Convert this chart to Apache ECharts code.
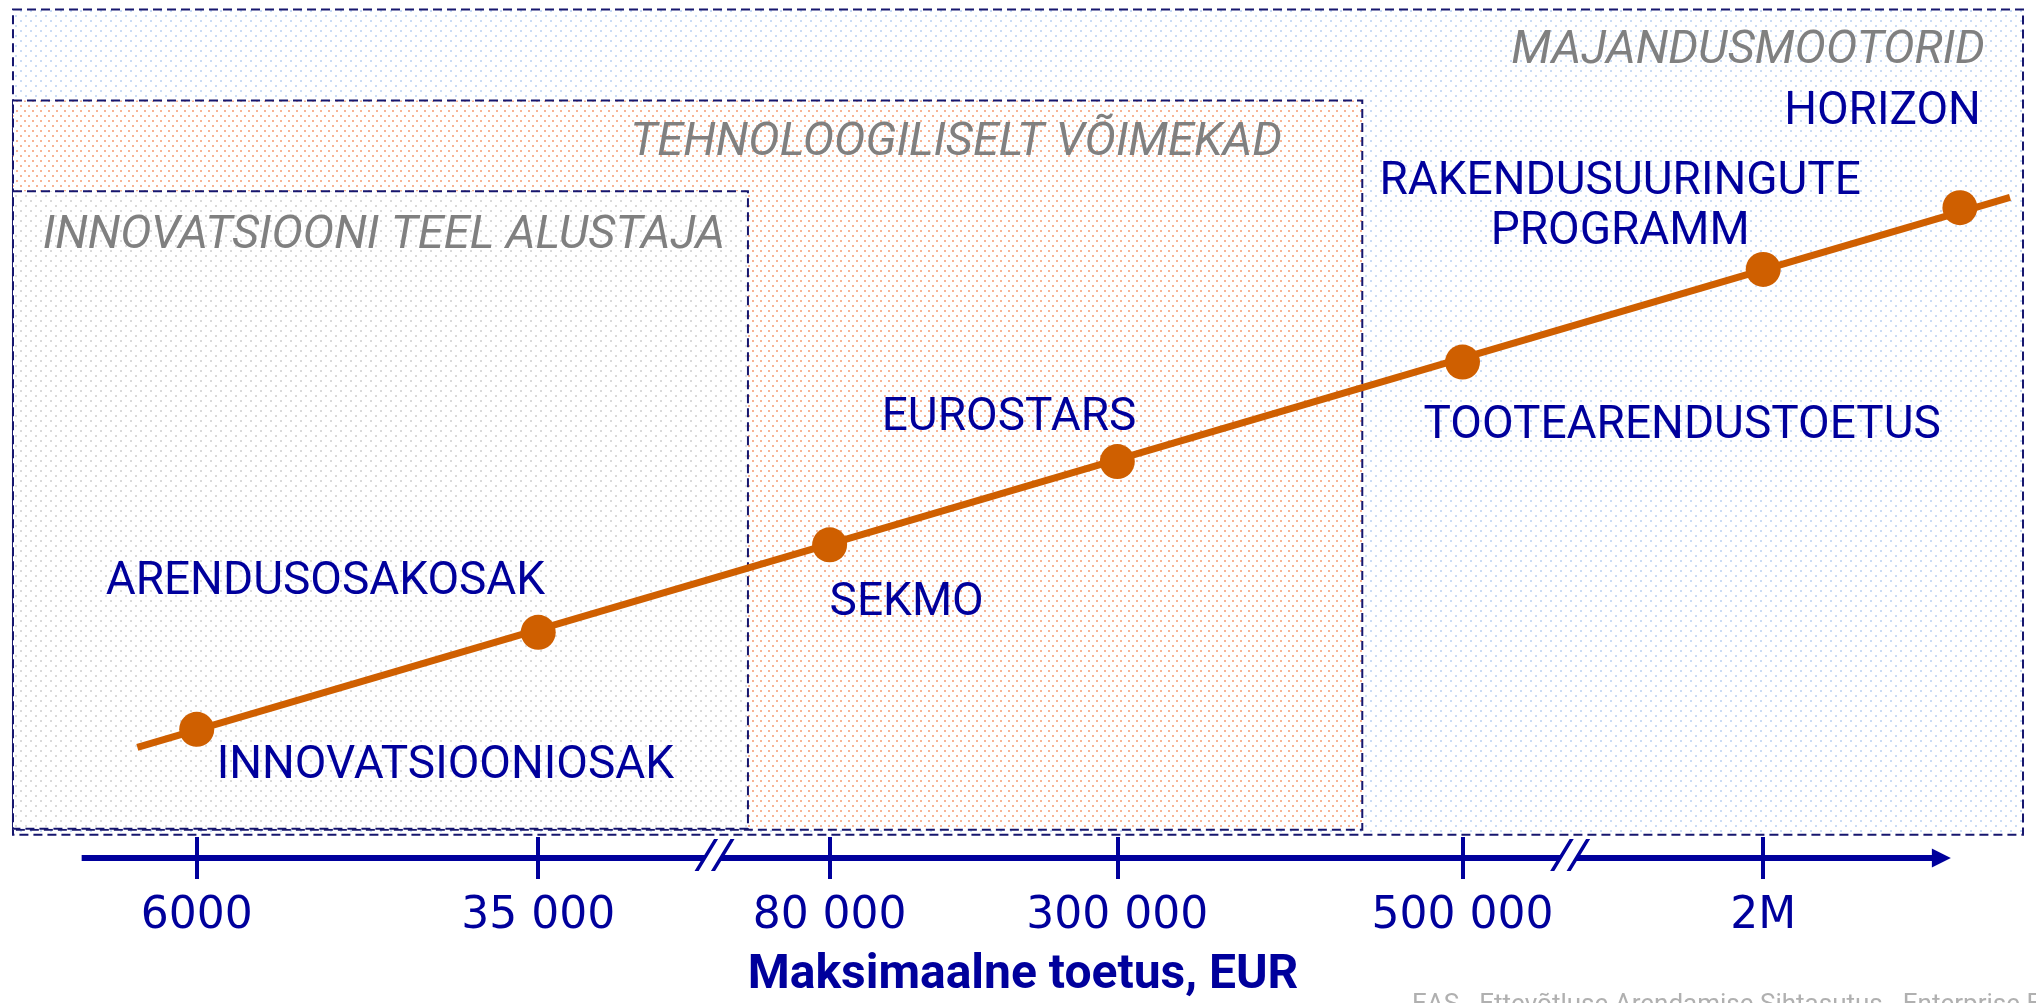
<!DOCTYPE html>
<html>
<head>
<meta charset="utf-8">
<script src="https://cdn.jsdelivr.net/npm/echarts@6/dist/echarts.min.js"></script>
<style>
    html, body { margin: 0; padding: 0; background: #fff; }
    #chart { width: 2036px; height: 1003px; }
</style>
</head>
<body>
<div id="chart"></div>
<script>
// programmes: position along the (schematic) axis 0..100 and level on the ladder
var programs = ['INNOVATSIOONIOSAK', 'ARENDUSOSAKOSAK', 'SEKMO', 'EUROSTARS',
    'TOOTEARENDUSTOETUS', 'RAKENDUSUURINGUTE\nPROGRAMM', 'HORIZON'];
var programX = [6.2, 24.6, 40.3, 55.8, 74.4, 90.6, 101.2];
var programLevel = [15.0, 26.3, 36.5, 46.2, 57.8, 68.6, 75.8];

// axis ticks
var tickX = [6.2, 24.6, 40.3, 55.8, 74.4, 90.6];
var tickLabels = ['6000', '35 000', '80 000', '300 000', '500 000', '2M'];
var breakX = [34.1, 80.2];
var axisRange = [0, 100.2];

// trend line ends
var trendX = [3.0, 103.9];
var trendLevel = [12.9, 77.0];

// nested groups
var regionNames = ['MAJANDUSMOOTORID', 'TEHNOLOOGILISELT VÕIMEKAD', 'INNOVATSIOONI TEEL ALUSTAJA'];
var regionX = [[-3.7, 104.6], [-3.7, 69.0], [-3.7, 35.9]];
var regionLevel = [[2.7, 98.9], [3.3, 88.3], [3.4, 77.7]];

var NAVY = '#00009c';
var ORANGE = '#cf5f00';

// label placement per programme (style only)
var labelPlace = [
    {align: 'left', offset: [20, 37]},
    {align: 'right', offset: [7, -50]},
    {align: 'left', offset: [0, 59]},
    {align: 'right', offset: [19, -43]},
    {align: 'left', offset: [-39, 64]},
    {align: 'center', offset: [-143, -62]},
    {align: 'right', offset: [21, -95]}
];
var titleInset = [[38, 42], [80, 43], [23, 45]];
var patterns = [
    {color: '#cadcf5', w: 10, h: 10},
    {color: '#f7b495', w: 8, h: 10},
    {color: '#dadada', w: 10, h: 10}
];

function dotPattern(p) {
    var c = document.createElement('canvas');
    c.width = p.w;
    c.height = p.h;
    var ctx = c.getContext('2d');
    ctx.fillStyle = '#ffffff';
    ctx.fillRect(0, 0, p.w, p.h);
    ctx.fillStyle = p.color;
    ctx.fillRect(0, 0, 2, 2);
    ctx.fillRect(p.w / 2, p.h / 2, 2, 2);
    return {image: c, repeat: 'repeat'};
}

var chart = echarts.init(document.getElementById('chart'));

function tickAxis(inside) {
    return {
        type: 'value',
        min: -4.4,
        max: 105.3,
        position: 'bottom',
        axisLine: {show: false, onZero: false},
        axisTick: {show: true, inside: inside, customValues: tickX, length: 21, lineStyle: {color: NAVY, width: 4}},
        axisLabel: {
            show: !inside,
            customValues: tickX,
            margin: 37,
            color: NAVY,
            fontFamily: 'DejaVu Sans',
            fontSize: 44,
            formatter: function (v) {
                var i = tickX.indexOf(v);
                return i >= 0 ? tickLabels[i] : '';
            }
        },
        splitLine: {show: false}
    };
}

var option = {
    animation: false,
    backgroundColor: '#ffffff',
    title: {
        text: 'Maksimaalne toetus, EUR',
        left: 1023,
        top: 952,
        padding: 0,
        textAlign: 'center',
        textStyle: {color: NAVY, fontFamily: 'Roboto', fontWeight: 'bold', fontSize: 48}
    },
    grid: {left: 0, right: 0, top: 0, bottom: 145, outerBoundsMode: 'none'},
    xAxis: [tickAxis(false), tickAxis(true)],
    yAxis: {type: 'value', min: 0, max: 100, show: false},
    series: [{
        type: 'line',
        silent: true,
        clip: false,
        symbol: 'none',
        data: trendX.map(function (x, i) { return [x, trendLevel[i]]; }),
        lineStyle: {color: ORANGE, width: 7},
        markLine: {
            silent: true,
            symbol: ['none', 'triangle'],
            symbolSize: 19,
            label: {show: false},
            lineStyle: {color: NAVY, width: 6, type: 'solid'},
            data: [[{coord: [axisRange[0], 0]}, {coord: [axisRange[1], 0]}]]
        },
        z: 3
    }, {
        type: 'scatter',
        clip: false,
        symbolSize: 35,
        itemStyle: {color: ORANGE, opacity: 1},
        data: programs.map(function (name, i) {
            return {
                name: name,
                value: [programX[i], programLevel[i]],
                label: {
                    show: true,
                    position: 'inside',
                    formatter: '{b}',
                    align: labelPlace[i].align,
                    verticalAlign: 'middle',
                    offset: labelPlace[i].offset,
                    color: NAVY,
                    opacity: 1,
                    fontFamily: 'Roboto',
                    fontSize: 46,
                    lineHeight: 50
                }
            };
        }),
        z: 4
    }, {
        // white gap of the axis break
        type: 'scatter',
        silent: true,
        clip: false,
        symbol: 'path://M4,32 L16,32 L35,0 L23,0 Z',
        symbolSize: [40, 32],
        symbolOffset: [0, -3],
        itemStyle: {color: '#ffffff', opacity: 1},
        data: breakX.map(function (x) { return [x, 0]; }),
        z: 5
    }, {
        type: 'scatter',
        silent: true,
        clip: false,
        symbol: 'path://M0,32 L4,32 L23,0 L19,0 Z M16,32 L20,32 L39,0 L35,0 Z',
        symbolSize: [40, 32],
        symbolOffset: [0, -3],
        itemStyle: {color: NAVY, opacity: 1},
        data: breakX.map(function (x) { return [x, 0]; }),
        z: 6
    }]
};

chart.setOption(option);

// group frames, placed through the grid scales
var graphics = [];
regionNames.forEach(function (name, i) {
    var tl = chart.convertToPixel({gridIndex: 0}, [regionX[i][0], regionLevel[i][1]]);
    var br = chart.convertToPixel({gridIndex: 0}, [regionX[i][1], regionLevel[i][0]]);
    graphics.push({
        type: 'rect',
        z: 0,
        silent: true,
        shape: {x: tl[0], y: tl[1], width: br[0] - tl[0], height: br[1] - tl[1]},
        style: {fill: dotPattern(patterns[i]), stroke: '#16166e', lineWidth: 2, lineDash: [9, 5]}
    });
    graphics.push({
        type: 'text',
        z: 1,
        silent: true,
        style: {
            text: name,
            x: br[0] - titleInset[i][0],
            y: tl[1] + titleInset[i][1],
            align: 'right',
            verticalAlign: 'middle',
            fill: '#808080',
            fontFamily: 'Roboto',
            fontStyle: 'italic',
            fontSize: 47
        }
    });
});
graphics.push({
    type: 'text',
    z: 1,
    silent: true,
    style: {
        text: 'EAS - Ettevõtluse Arendamise Sihtasutus - Enterprise Estonia',
        x: 1412,
        y: 992,
        align: 'left',
        verticalAlign: 'top',
        fill: '#b0b0b0',
        fontFamily: 'Roboto',
        fontSize: 26
    }
});
chart.setOption({graphic: {elements: graphics}});
</script>
</body>
</html>
